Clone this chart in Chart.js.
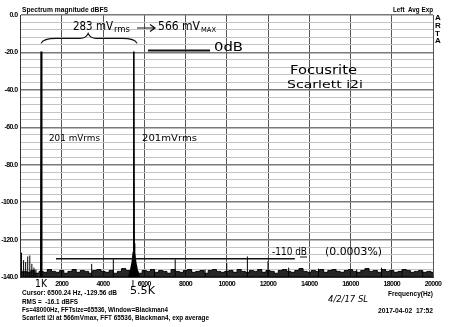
<!DOCTYPE html>
<html><head><meta charset="utf-8">
<script src="https://cdn.jsdelivr.net/npm/chart.js@4.4.1/dist/chart.umd.min.js"></script>
<style>html,body{margin:0;padding:0;background:#fff;}#wrap{width:450px;height:327px;}</style>
</head><body><div id="wrap"><canvas id="c" width="450" height="327"></canvas></div>
<script>
// ---- data ----
const xLabelValues = [2000,4000,6000,8000,10000,12000,14000,16000,18000,20000];
const yLabelValues = [0,-20,-40,-60,-80,-100,-120,-140];
const floorStepHz = 200;
const floorDb = [
-138,-137,-137.5,-136.5,-138,-137,-137.5,-136,-137,-137.5,
-136.5,-138,-137,-136,-137.5,-136.5,-137,-138,-136.5,-136,
-137,-137.5,-136.5,-138,-137,-135.5,-136.5,-137.5,-137,-138,
-136.5,-137,-136,-137.5,-136.5,-137,-138,-136,-137,-137.5,
-136.5,-136,-137.5,-137,-136.5,-138,-136.5,-136,-137,-137.5,
-137,-136.5,-137.5,-136,-137,-137.5,-136.5,-137,-136,-137.5,
-136.5,-137,-138,-136.5,-136,-137,-137.5,-136.5,-135.5,-137,
-137.5,-136.5,-137,-136,-137.5,-136.5,-136,-137,-137.5,-136.5,
-136,-137,-137.5,-136.5,-135.5,-137,-136.5,-137.5,-136,-137,
-136.5,-137.5,-137,-136,-136.5,-137.5,-137,-136.5,-137.5,-137,
-137.5];
const spurHz = [50,150,250,350,450,550,650,750,2000,3450,4500,6500,7500,8950,10000,11000,12000,13000,14450,16300,17500,18500,19500];
const spurDb = [-127,-131,-132,-129,-128.5,-133,-135,-136,-136.5,-133,-130.5,-136.5,-130.5,-136,-132.5,-129,-131.5,-135,-135.5,-136,-135,-136.5,-137];
const tone1Hz = [960,985,1000,1015,1040];
const tone1Db = [-140,-134,-19.5,-134,-140];
const tone2Hz = [5250,5350,5420,5470,5490,5500,5510,5530,5580,5650,5750];
const tone2Db = [-140,-136,-132,-127,-122,-19.5,-122,-127,-132,-136,-140];

// ---- build datasets ----
const floorData = floorDb.map((v,i)=>({x:i*floorStepHz, y:v}));
const spurData = [];
spurHz.forEach((f,i)=>{ spurData.push({x:f,y:-140},{x:f,y:spurDb[i]},{x:f,y:null}); });
const toneData = tone1Hz.map((f,i)=>({x:f,y:tone1Db[i]})).concat([{x:3000,y:null}], tone2Hz.map((f,i)=>({x:f,y:tone2Db[i]})));

const tickFont = {family:"'Liberation Sans Narrow','Liberation Sans',Arial,sans-serif", size:7, weight:'bold'};
const HAND = "'DejaVu Sans',sans-serif";
const LAB = "'Liberation Sans Narrow','Liberation Sans',Arial,sans-serif";

function fitText(ctx, s, x, y, font, w){
  ctx.save(); ctx.font = font; ctx.textAlign='left'; ctx.textBaseline='middle'; ctx.fillStyle='#000';
  const m = ctx.measureText(s).width;
  ctx.translate(x,y); if (w) ctx.scale(w/m,1); ctx.fillText(s,0,0); ctx.restore();
}

const annot = {
  id:'annot',
  beforeDraw(chart){ chart.ctx.letterSpacing = '-0.6px'; },
  afterDraw(chart){
    const ctx = chart.ctx, xs = chart.scales.x, ys = chart.scales.y;
    ctx.letterSpacing = '0px';
    const X = v=>xs.getPixelForValue(v), Y = v=>ys.getPixelForValue(v);
    // printed texts
    fitText(ctx,'Spectrum magnitude dBFS',22,10,'bold 8px '+LAB,86);
    fitText(ctx,'Left  Avg Exp',393,10,'bold 7px '+LAB,40);
    ['A','R','T','A'].forEach((c,i)=>fitText(ctx,c,435,18+i*7.7,'bold 8px '+LAB,0));
    fitText(ctx,'Frequency(Hz)',388,294,'bold 8px '+LAB,45);
    fitText(ctx,'Cursor: 6500.24 Hz, -129.56 dB',22,293,'bold 7px '+LAB,95);
    fitText(ctx,'RMS =  -16.1 dBFS',22,302,'bold 7px '+LAB,56);
    fitText(ctx,'Fs=48000Hz, FFTsize=65536, Window=Blackman4',22,310,'bold 7px '+LAB,146);
    fitText(ctx,'Scarlett i2i at 566mVmax, FFT 65536, Blackman4, exp average',22,318,'bold 7px '+LAB,187);
    fitText(ctx,'2017-04-02  17:52',378,311,'bold 7px '+LAB,55);
    // handwritten notes
    ctx.save(); ctx.strokeStyle='#111'; ctx.lineWidth=1.2;
    const x1=X(1000), x2=X(5650), xm=X(3280), yb=Y(-12.5);
    ctx.beginPath();
    ctx.moveTo(x1,yb+5); ctx.quadraticCurveTo(x1+2,yb,x1+15,yb);
    ctx.lineTo(xm-8,yb); ctx.quadraticCurveTo(xm-2,yb,xm,yb-5);
    ctx.quadraticCurveTo(xm+2,yb,xm+8,yb); ctx.lineTo(x2-15,yb);
    ctx.quadraticCurveTo(x2-2,yb,x2,yb+5); ctx.stroke();
    ctx.beginPath(); ctx.moveTo(137,28); ctx.lineTo(155,28);
    ctx.moveTo(150,24.5); ctx.lineTo(155,28); ctx.lineTo(150,31.5); ctx.stroke();
    ctx.lineWidth=2; ctx.beginPath(); ctx.moveTo(X(6180),Y(-19)); ctx.lineTo(X(9190),Y(-19)); ctx.stroke();
    ctx.lineWidth=1.5; ctx.beginPath(); ctx.moveTo(X(1720),Y(-130.3)); ctx.lineTo(X(13300),Y(-130.3)); ctx.stroke();
    ctx.lineWidth=1; ctx.beginPath(); ctx.moveTo(300,257); ctx.lineTo(307,257); ctx.stroke();
    ctx.beginPath(); ctx.moveTo(X(5500)-1,280); ctx.lineTo(X(5500)-1,287); ctx.stroke();
    ctx.restore();
    fitText(ctx,'283 mV',73,27,'12px '+HAND,40);
    fitText(ctx,'rms',114,30,'8px '+HAND,16);
    fitText(ctx,'566 mV',158,27,'12px '+HAND,42);
    fitText(ctx,'MAX',201,30,'7px '+HAND,15);
    fitText(ctx,'0dB',214,48,'12px '+HAND,29);
    fitText(ctx,'Focusrite',290,71,'12px '+HAND,67);
    fitText(ctx,'Scarlett i2i',287,85,'11px '+HAND,76);
    fitText(ctx,'201 mVrms',49,139,'9px '+HAND,51);
    fitText(ctx,'201mVrms',142,139,'9px '+HAND,55);
    fitText(ctx,'-110 dB',272,252,'10px '+HAND,35);
    fitText(ctx,'(0.0003%)',325,252,'10px '+HAND,57);
    fitText(ctx,'1K',35,284,'11px '+HAND,12);
    fitText(ctx,'5.5K',130,291,'11px '+HAND,25);
    fitText(ctx,'4/2/17 SL',328,300,'italic 9px '+HAND,40);
  }
};

new Chart(document.getElementById('c'), {
  type:'line',
  data:{datasets:[
    {data:floorData, borderColor:'#000', borderWidth:1, fill:'start', backgroundColor:'rgba(0,0,0,0.85)', pointRadius:0, stepped:'middle'},
    {data:spurData, borderColor:'#000', borderWidth:1, fill:false, pointRadius:0, spanGaps:false},
    {data:toneData, borderColor:'#000', borderWidth:1.6, fill:'start', backgroundColor:'#000', pointRadius:0, spanGaps:false}
  ]},
  options:{
    responsive:false, animation:false, devicePixelRatio:1,
    layout:{padding:{top:15,right:17,bottom:0,left:0}},
    plugins:{legend:{display:false}, tooltip:{enabled:false}, title:{display:false}},
    scales:{
      x:{type:'linear', min:0, max:20000,
        ticks:{stepSize:2000, autoSkip:false, maxRotation:0, padding:3, color:'#000', font:tickFont,
          callback:v=>xLabelValues.includes(v)?String(v):''},
        grid:{color:'#555', lineWidth:1, drawTicks:false},
        border:{color:'#333', width:1},
        afterFit(s){s.height=50;}},
      y:{type:'linear', min:-140, max:0,
        ticks:{stepSize:4, autoSkip:false, padding:3, color:'#000', font:tickFont,
          callback:v=>yLabelValues.includes(v)?v.toFixed(1):''},
        grid:{color:c=>(c.tick && c.tick.value%20===0)?'#7a7a7a':'#c4c4c4',
              lineWidth:c=>(c.tick && c.tick.value%20===0)?1.5:1, drawTicks:false},
        border:{color:'#333', width:1},
        afterFit(s){s.width=20.5;}}
    }
  },
  plugins:[annot]
});
</script></body></html>
